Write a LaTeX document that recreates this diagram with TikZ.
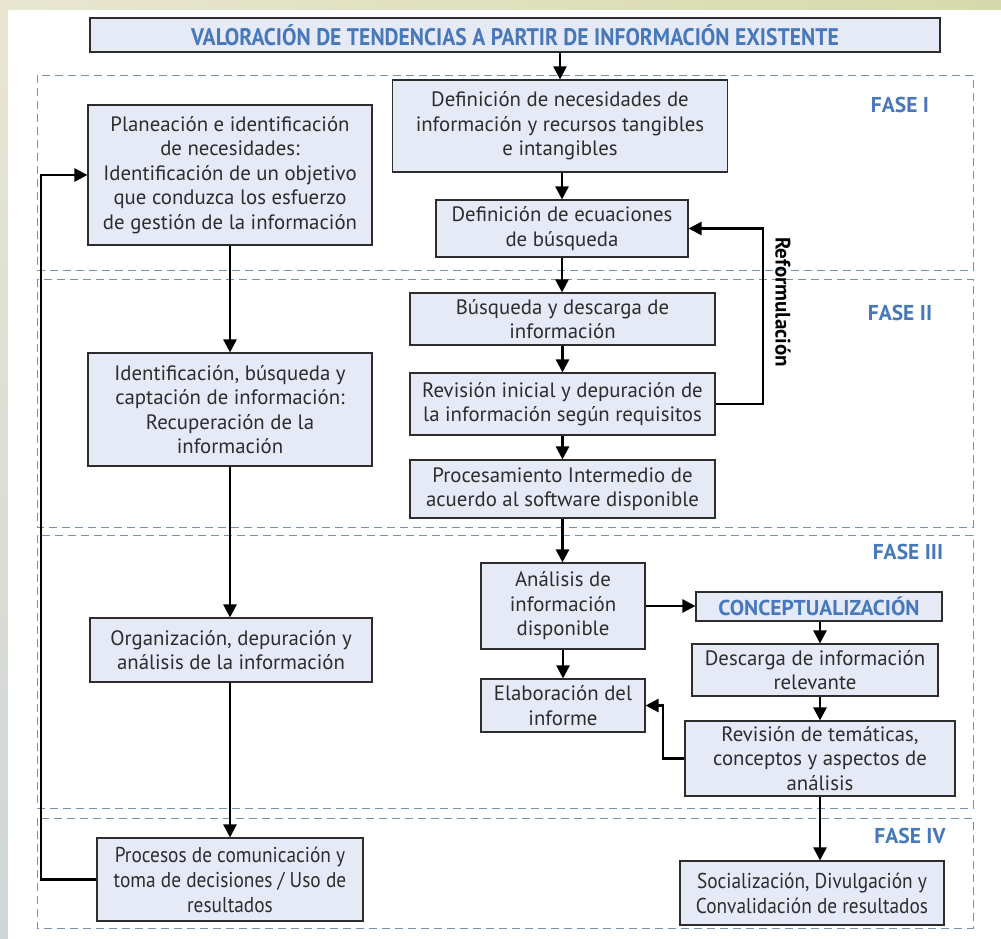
\documentclass[tikz,border=0pt]{standalone}
\usepackage{fontspec}
\setmainfont{PT Sans}
\newfontfamily\narrowfont[FakeStretch=0.9]{PT Sans}
\usetikzlibrary{arrows.meta}

\definecolor{boxfill}{RGB}{230,233,246}
\definecolor{boxline}{RGB}{45,45,45}
\definecolor{txt}{RGB}{45,45,45}
\definecolor{faseblue}{RGB}{70,120,186}
\definecolor{phaseline}{RGB}{120,145,170}
\definecolor{bgbeige}{RGB}{232,230,208}
\definecolor{bggrey}{RGB}{208,214,216}

\tikzset{
  box/.style={draw=boxline, line width=1.1pt, fill=boxfill, text=txt,
    align=center, inner sep=0pt,
    font=\fontsize{20.8}{24.5}\selectfont},
  narrowbox/.style={box, font=\narrowfont\fontsize{21.5}{25}\selectfont},
  arr/.style={draw=black, line width=2.5pt, -{Triangle[length=13pt,width=13pt]}},
  phase/.style={draw=phaseline, line width=0.8pt, dash pattern=on 8pt off 5pt},
  faselabel/.style={text=faseblue, font=\bfseries\fontsize{21.5}{22}\selectfont, inner sep=0pt}
}

\begin{document}
\begin{tikzpicture}[x=1pt, y=-1pt]
\useasboundingbox (0,0) rectangle (1001,939);

% backdrop and white sheet
\shade[top color=bgbeige, bottom color=bggrey] (0,0) rectangle (1001,939);
\shade[left color=bgbeige, right color={rgb,255:red,214;green,218;blue,170}] (0,0) rectangle (1001,10);
\fill[white] (8,10) rectangle (1001,939);

% phase frames
\draw[phase] (37,75) rectangle (973,270);
\draw[phase] (37,279) rectangle (973,527);
\draw[phase] (37,535) rectangle (973,808);
\draw[phase] (37,818) rectangle (973,928);

\node[faselabel] (f1) at (900,105) {FASE I};
\node[faselabel] (f2) at (900,313) {FASE II};
\node[faselabel] (f3) at (908,552) {FASE III};
\node[faselabel] (f4) at (910,836) {FASE IV};

% title
\node[box, minimum width=850, minimum height=34, text=faseblue,
      font=\narrowfont\bfseries\fontsize{24}{25}\selectfont] (title) at (515,35)
  {VALORACIÓN DE TENDENCIAS A PARTIR DE INFORMACIÓN EXISTENTE};

% left column
\node[box, minimum width=284, minimum height=140] (plan) at (230,175)
  {Planeación e identificación\\ de necesidades:\\ Identificación de un objetivo\\ que conduzca los esfuerzo\\ de gestión de la información};
\node[box, minimum width=284, minimum height=113] (ident) at (230,409.5)
  {Identificación, búsqueda y\\ captación de información:\\ Recuperación de la\\ información};
\node[box, minimum width=282, minimum height=64] (org) at (231,650)
  {Organización, depuración y\\ análisis de la información};
\node[narrowbox, minimum width=266, minimum height=83] (pcs) at (230,879.5)
  {Procesos de comunicación y\\ toma de decisiones / Uso de\\ resultados};

% right column
\node[box, minimum width=335, minimum height=92] (ndef) at (560,126)
  {Definición de necesidades de\\ información y recursos tangibles\\ e intangibles};
\node[box, minimum width=252, minimum height=57] (ecu) at (562,228.5)
  {Definición de ecuaciones\\ de búsqueda};
\node[box, minimum width=305, minimum height=52] (bus) at (562.5,319)
  {Búsqueda y descarga de\\ información};
\node[box, minimum width=305, minimum height=62] (rev) at (562.5,404)
  {Revisión inicial y depuración de\\ la información según requisitos};
\node[box, minimum width=305, minimum height=58] (proc) at (562.5,489)
  {Procesamiento Intermedio de\\ acuerdo al software disponible};
\node[box, minimum width=164, minimum height=86] (ana) at (563,606)
  {Análisis de\\ información\\ disponible};
\node[box, minimum width=164, minimum height=53] (elab) at (563,705.5)
  {Elaboración del\\ informe};
\node[box, minimum width=246, minimum height=29, text=faseblue,
      font=\bfseries\fontsize{21.5}{22}\selectfont] (con) at (819,606.5)
  {CONCEPTUALIZACIÓN};
\node[box, minimum width=246, minimum height=52] (des) at (815,670)
  {Descarga de información\\ relevante};
\node[box, minimum width=270, minimum height=75] (rt) at (820,758.5)
  {Revisión de temáticas,\\ conceptos y aspectos de\\ análisis};
\node[narrowbox, minimum width=264, minimum height=64] (soc) at (812,893)
  {Socialización, Divulgación y\\ Convalidación de resultados};

\node[rotate=-90, font=\bfseries\fontsize{21}{22}\selectfont, inner sep=0pt] (refl) at (783,302) {Reformulación};

% bend points
\coordinate (fb) at (41,0);
\coordinate (rf) at (763,0);
\coordinate (eb) at (663,0);

% connectors
\draw[arr] (title.south -| ndef.north) -- (ndef.north);
\draw[arr] (ndef.south -| ecu.north) -- (ecu.north);
\draw[arr] (ecu.south) -- (ecu.south |- bus.north);
\draw[arr] (bus.south) -- (rev.north);
\draw[arr] (rev.south) -- (proc.north);
\draw[arr] (proc.south) -- (proc.south |- ana.north);
\draw[arr] (rev.east) -- (rev.east -| rf) -- (ecu.east -| rf) -- (ecu.east);

\draw[arr] (plan.south) -- (plan.south |- ident.north);
\draw[arr] (ident.south) -- (ident.south |- org.north);
\draw[arr] (org.south -| pcs.north) -- (pcs.north);
\draw[arr] (pcs.west) -- (pcs.west -| fb) -- (plan.west -| fb) -- (plan.west);

\draw[arr] (ana.east) -- (ana.east -| con.west);
\draw[arr] (con.south -| rt.north) -- (des.north -| rt.north);
\draw[arr] (des.south -| rt.north) -- (rt.north);
\draw[arr] (ana.south) -- (elab.north);
\draw[arr] (rt.west) -- (rt.west -| eb) -- (elab.east -| eb) -- (elab.east);
\draw[arr] (rt.south) -- (rt.south |- soc.north);
\end{tikzpicture}
\end{document}
